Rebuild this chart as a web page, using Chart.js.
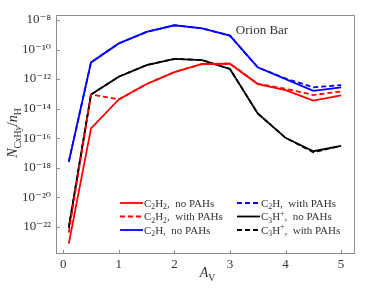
<!DOCTYPE html>
<html><head><meta charset="utf-8">
<script src="https://cdn.jsdelivr.net/npm/chart.js@4/dist/chart.umd.min.js"></script>
<style>html,body{margin:0;padding:0;background:#fff}#wrap{width:374px;height:299px}</style>
</head><body><div id="wrap"><canvas id="c" width="374" height="299"></canvas></div>
<script>
// ---- data ----
const AV = [0.1, 0.5, 1, 1.5, 2, 2.5, 3, 3.5, 4, 4.5, 5];
const C2H2_noPAH   = [7.2e-24, 4.6e-16, 4.2e-14, 4.6e-13, 2.95e-12, 1.05e-11, 1.1e-11, 4.6e-13, 1.8e-13, 3.5e-14, 7.9e-14];
const C2H2_withPAH = [4.0e-23, 9.1e-14, 4.2e-14, 4.6e-13, 2.95e-12, 1.05e-11, 1.1e-11, 4.8e-13, 2.2e-13, 8.3e-14, 1.45e-13];
const C2H_noPAH    = [2.5e-18, 1.35e-11, 2.6e-10, 1.55e-9, 4.4e-9, 2.75e-9, 8.7e-10, 6.2e-12, 1.0e-12, 1.6e-13, 2.75e-13];
const C2H_withPAH  = [2.5e-18, 1.35e-11, 2.6e-10, 1.55e-9, 4.4e-9, 2.75e-9, 8.7e-10, 6.2e-12, 1.1e-12, 2.75e-13, 3.9e-13];
const C3Hp_noPAH   = [8.7e-23, 9.1e-14, 1.45e-12, 8.9e-12, 2.3e-11, 1.95e-11, 4.8e-12, 4.7e-15, 1.05e-16, 1.3e-17, 3.0e-17];
const C3Hp_withPAH = [8.7e-23, 9.1e-14, 1.45e-12, 8.9e-12, 2.3e-11, 1.95e-11, 4.8e-12, 4.7e-15, 1.05e-16, 1.1e-17, 3.0e-17];
const xTickValues = [0, 1, 2, 3, 4, 5];
const yTickExponents = [-8, -10, -12, -14, -16, -18, -20, -22];
const seriesLabels = ['C2H2, no PAHs', 'C2H2, with PAHs', 'C2H, no PAHs', 'C2H, with PAHs', 'C3H+, no PAHs', 'C3H+, with PAHs'];
const annotationText = 'Orion Bar';

const SERIF = '"Liberation Serif", "DejaVu Serif", serif';
const SUP = {'-':'⁻','0':'⁰','1':'¹','2':'²','3':'³','4':'⁴','5':'⁵','6':'⁶','7':'⁷','8':'⁸','9':'⁹'};
function supStr(n){ return String(n).split('').map(c=>SUP[c]).join(''); }

// rich text: parse label into segments (digits after letters -> subscript, '+' -> superscript)
function richSegs(label){
  const segs=[]; 
  const m = label.match(/^(C\d?H\d?\+?)(.*)$/);
  const formula = m[1], rest = m[2];
  for(const ch of formula){
    if(/\d/.test(ch)) segs.push({t:ch, sub:true});
    else if(ch==='+') segs.push({t:ch, sup:true});
    else segs.push({t:ch});
  }
  segs.push({t:rest.replace(', ', ',  ')});
  return segs;
}
function drawSegs(ctx, segs, x, y, size){
  let cx=x;
  for(const s of segs){
    const sz = (s.sub||s.sup) ? size*0.7 : size;
    ctx.font = (s.italic?'italic ':'') + sz + 'px ' + SERIF;
    const dy = s.sub ? size*0.25 : (s.sup ? -size*0.38 : 0);
    ctx.fillText(s.t, cx, y+dy);
    cx += ctx.measureText(s.t).width;
  }
  return cx-x;
}
function measureSegs(ctx, segs, size){
  let w=0;
  for(const s of segs){
    const sz = (s.sub||s.sup) ? size*0.7 : size;
    ctx.font = (s.italic?'italic ':'') + sz + 'px ' + SERIF;
    w += ctx.measureText(s.t).width;
  }
  return w;
}

const colors = ['#ff0000','#ff0000','#0000ff','#0000ff','#000000','#000000'];
const dashes = [[],[5,3],[],[5,3],[],[5,3]];
const values = [C2H2_noPAH, C2H2_withPAH, C2H_noPAH, C2H_withPAH, C3Hp_noPAH, C3Hp_withPAH];

const datasets = values.map((arr,i)=>({
  label: seriesLabels[i],
  data: AV.map((x,j)=>({x:x, y:arr[j]})),
  borderColor: colors[i],
  borderDash: dashes[i],
  borderWidth: 1.8,
  pointRadius: 0,
  fill: false,
  tension: 0
}));

const framePlugin = {
  id: 'frame',
  afterDraw(chart){
    const ctx=chart.ctx, a=chart.chartArea;
    const xs=chart.scales.x, ys=chart.scales.y;
    ctx.save();
    // frame
    ctx.strokeStyle='#8c8c8c'; ctx.lineWidth=1;
    ctx.strokeRect(Math.round(a.left)+0.5, Math.round(a.top)+0.5, Math.round(a.right-a.left)-1, Math.round(a.bottom-a.top)-1);
    // inward ticks
    ctx.beginPath();
    for(const v of xTickValues){
      const px=Math.round(xs.getPixelForValue(v))+0.5;
      ctx.moveTo(px, a.bottom); ctx.lineTo(px, a.bottom-4);
    }
    for(const e of yTickExponents){
      const py=Math.round(ys.getPixelForValue(Math.pow(10,e)))+0.5;
      ctx.moveTo(a.left, py); ctx.lineTo(a.left+4, py);
    }
    ctx.stroke();

    ctx.fillStyle='#333';
    ctx.textBaseline='alphabetic';
    // annotation
    ctx.font='13px '+SERIF;
    ctx.textAlign='center';
    ctx.fillText(annotationText, 262, 34);
    ctx.textAlign='left';

    // x title A_V
    const xt=[{t:'A', italic:true},{t:'V', sub:true}];
    const wx=measureSegs(ctx,xt,14);
    drawSegs(ctx, xt, (a.left+a.right)/2 - wx/2 + 2, 277, 14);

    // y title
    ctx.save();
    ctx.translate(17, 133);
    ctx.rotate(-Math.PI/2);
    const yt=[{t:'N', italic:true},{t:'C', sub:true},{t:'x', sub:true, italic:true},{t:'H', sub:true},{t:'y', sub:true, italic:true},{t:'/', },{t:'n', italic:true},{t:'H', sub:true}];
    const wy=measureSegs(ctx,yt,14);
    drawSegs(ctx, yt, -wy/2, 0, 14);
    ctx.restore();

    // legend (2 columns x 3 rows, column-major)
    const colX=[120, 237], rowY=[203, 216.5, 230];
    chart.data.datasets.forEach((ds,i)=>{
      const col=Math.floor(i/3), row=i%3;
      const lx=colX[col], ly=rowY[row];
      ctx.save();
      ctx.strokeStyle=ds.borderColor; ctx.lineWidth=1.8;
      ctx.setLineDash(ds.borderDash);
      ctx.beginPath(); ctx.moveTo(lx, ly); ctx.lineTo(lx+23, ly); ctx.stroke();
      ctx.restore();
      ctx.fillStyle='#333';
      drawSegs(ctx, richSegs(ds.label), lx+24, ly+3.5, 11);
    });
    ctx.restore();
  }
};

new Chart(document.getElementById('c'), {
  type: 'line',
  data: { datasets },
  options: {
    responsive: false,
    animation: false,
    devicePixelRatio: 1,
    layout: { padding: { left: 0, top: 15, right: 19, bottom: 0 } },
    plugins: { legend: { display: false }, tooltip: { enabled: false } },
    scales: {
      x: {
        type: 'linear', min: -0.13, max: 5.25,
        grid: { display: false, drawTicks: false },
        border: { display: false },
        afterFit(s){ s.height = 45; },
        afterBuildTicks(s){ s.ticks = xTickValues.map(v=>({value:v})); },
        ticks: { padding: 3, color: '#333', font: { family: SERIF, size: 13 }, maxRotation: 0,
          callback: v => String(v) }
      },
      y: {
        type: 'logarithmic', min: Math.pow(10,-23.85), max: Math.pow(10,-7.66),
        grid: { display: false, drawTicks: false },
        border: { display: false },
        afterFit(s){ s.width = 56; },
        afterBuildTicks(s){ s.ticks = yTickExponents.map(e=>({value:Math.pow(10,e)})); },
        ticks: { padding: 5, color: '#333', font: { family: SERIF, size: 13 },
          callback: v => '10' + supStr(Math.round(Math.log10(v))) }
      }
    }
  },
  plugins: [framePlugin]
});
</script></body></html>
